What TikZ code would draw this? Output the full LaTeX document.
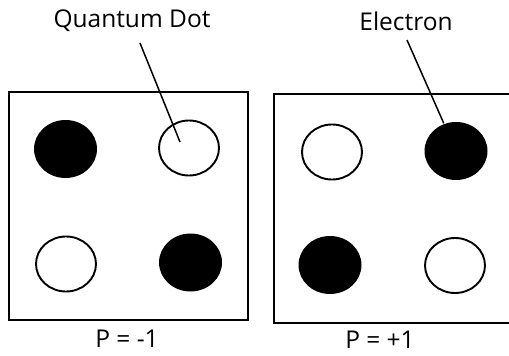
\documentclass[tikz,border=0pt]{standalone}
\usepackage{fontspec}
\setmainfont{Open Sans}
\usetikzlibrary{shapes.geometric}
\tikzset{
  fulldot/.style={ellipse,fill=black,minimum width=63pt,minimum height=58pt,inner sep=0pt},
  emptydot/.style={ellipse,draw=black,line width=1.9pt,minimum width=60pt,minimum height=55pt,inner sep=0pt},
  labeltext/.style={font=\fontsize{24.5}{28}\selectfont,inner sep=0pt}
}
\begin{document}
\begin{tikzpicture}[x=1pt,y=-1pt,line width=1.8pt]
\useasboundingbox (0,0) rectangle (509,356);
% boxes
\draw (9,92) rectangle (248,320);
\draw (509,94) -- (274,94) -- (274,323) -- (509,323);
% P = -1
\node[fulldot] (l1) at (65.5,149) {};
\node[emptydot] (l2) at (189,148) {};
\node[emptydot] (l3) at (66,264) {};
\node[fulldot] (l4) at (190.5,262.5) {};
% P = +1
\node[emptydot] (r1) at (332,152) {};
\node[fulldot] (r2) at (456,151) {};
\node[fulldot] (r3) at (330,265) {};
\node[emptydot] (r4) at (455,265.5) {};
\node[labeltext] (qd) at (132,21) {Quantum Dot};
\node[labeltext] (el) at (406,21) {Electron};
\node[labeltext] (pm) at (127,339) {P = -1};
\node[labeltext] (pp) at (380,340) {P = +1};
\coordinate (qdend) at (180,142);
\draw[line width=1.5pt] (140,43) -- (qdend);\draw[line width=1.5pt] (407,40) -- (r2);
\end{tikzpicture}
\end{document}
